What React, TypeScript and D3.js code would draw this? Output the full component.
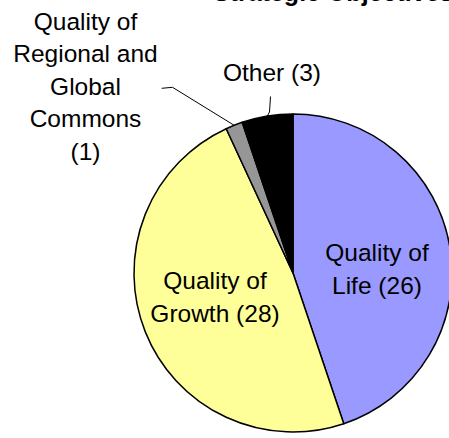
import React from "react";
import * as d3 from "d3";

const categories = ["Quality of Life", "Quality of Growth", "Quality of Regional and Global Commons", "Other"];
const values = [26, 28, 1, 3];
const colors = ["#9999FF", "#FFFF99", "#969696", "#000000"];
const labelLines = [
  ["Quality of", "Life (26)"],
  ["Quality of", "Growth (28)"],
  ["Quality of", "Regional and", "Global", "Commons", "(1)"],
  ["Other (3)"],
];
const title = "Strategic Objectives";

const W = 449, H = 438;
const cx = 293, cy = 273, R = 159;
const FONT = "'Liberation Sans', Arial, sans-serif";

export default function App() {
  const pie = d3.pie<number>().sort(null).value((d) => d)(values);
  const arc = d3.arc<d3.PieArcDatum<number>>().innerRadius(0).outerRadius(R);
  const edge = (a: number, r: number) => [r * Math.sin(a), -r * Math.cos(a)];

  const lh = 32.5;
  const labelPos: [number, number][] = [
    [377, 261],
    [215, 289],
    [85.5, 29.5],
    [272, 81],
  ];

  const regMid = (pie[2].startAngle + pie[2].endAngle) / 2;
  const [rx, ry] = edge(regMid, R);
  const othMid = (pie[3].startAngle + pie[3].endAngle) / 2;
  const [ox, oy] = edge(othMid, R);

  return (
    <svg width={W} height={H} style={{ position: "absolute", left: 0, top: 0, background: "#fff" }}>
      <text x={213} y={0.5} fontFamily={FONT} fontWeight="bold" fontSize={25} fill="#000">
        {title}
      </text>
      <g transform={`translate(${cx},${cy})`}>
        {pie.map((d, i) => (
          <path key={categories[i]} d={arc(d) || ""} fill={colors[i]} stroke="#000" strokeWidth={1.5} strokeLinejoin="round" />
        ))}
      </g>
      <polyline
        points={`161.7,88.3 172.5,87.3 ${cx + rx},${cy + ry}`}
        fill="none"
        stroke="#000"
        strokeWidth={1}
      />
      <polyline
        points={`270.5,96.5 269.5,112 ${cx + ox},${cy + oy}`}
        fill="none"
        stroke="#000"
        strokeWidth={1}
      />
      {labelLines.map((lines, i) => (
        <text key={i} fontFamily={FONT} fontSize={24.5} fill="#000" textAnchor="middle">
          {lines.map((l, j) => (
            <tspan key={j} x={labelPos[i][0]} y={labelPos[i][1] + j * lh}>
              {l}
            </tspan>
          ))}
        </text>
      ))}
    </svg>
  );
}
